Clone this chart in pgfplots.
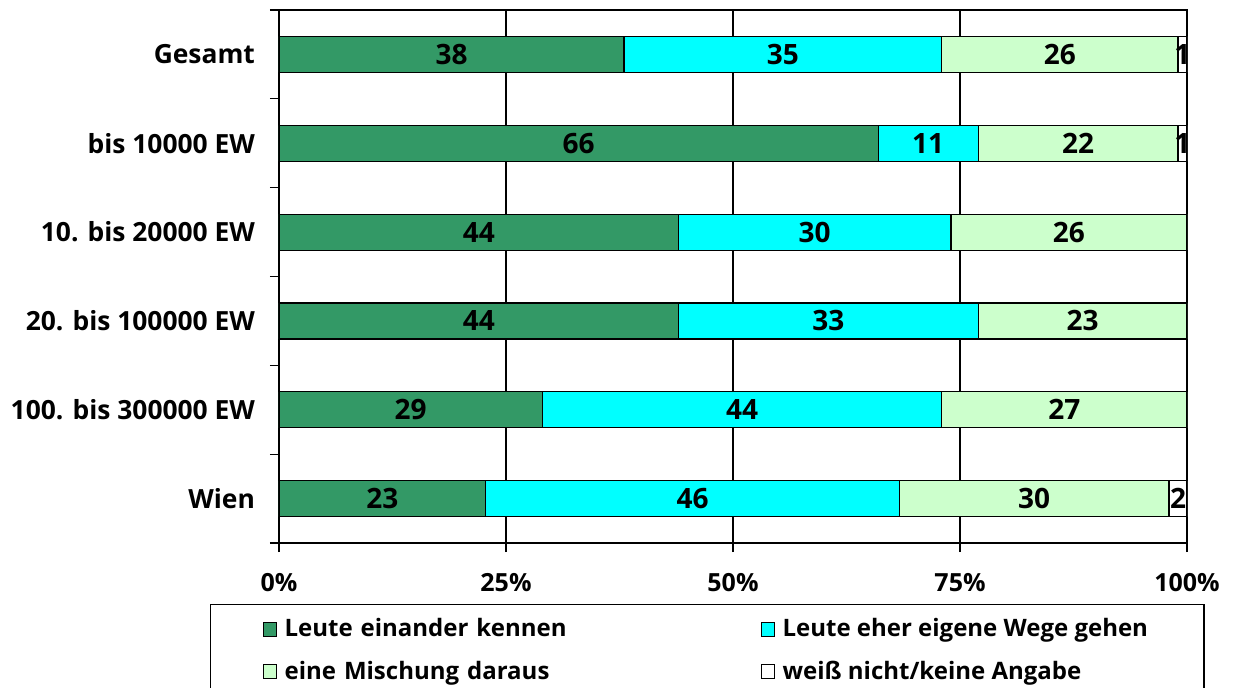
\documentclass[border=0pt]{standalone}
\usepackage{fontspec}
\setmainfont{Open Sans}
\usepackage{pgfplots}
\usepackage{pgfplotstable}
\pgfplotsset{compat=1.18}
\definecolor{dg}{RGB}{51,153,102}
\definecolor{cy}{RGB}{0,255,255}
\definecolor{lg}{RGB}{204,255,204}
\pgfplotstableread{
c v l
0 38 38
1 66 66
2 44 44
3 44 44
4 29 29
5 22.772 23
}\tA
\pgfplotstableread{
c v l
0 35 35
1 11 11
2 30 30
3 33 33
4 44 44
5 45.545 46
}\tB
\pgfplotstableread{
c v l
0 26 26
1 22 22
2 26 26
3 23 23
4 27 27
5 29.703 30
}\tC
\pgfplotstableread{
c v l
0 1 1
1 1 1
2 0 0
3 0 0
4 0 0
5 1.980 2
}\tD
\pgfplotsset{seg/.style={draw=black, line width=0.6pt,
  point meta=explicit symbolic,
  nodes near coords={\ifnum\pgfplotspointmeta>0 \pgfplotspointmeta\fi},
  every node near coord/.style={anchor=center, font=\fontsize{14}{16}\selectfont\bfseries, black}}}
\begin{document}
\begin{tikzpicture}
\useasboundingbox (0,0) rectangle (618pt,-343.5pt);
\begin{axis}[
  at={(139.5pt,-271.5pt)}, anchor=south west,
  width=454pt, height=266.5pt, scale only axis,
  xbar stacked, bar width=18pt,
  xmin=0, xmax=100, ymin=-0.5, ymax=5.5, y dir=reverse,
  axis line style={black, line width=0.8pt},
  xtick={0,25,50,75,100},
  xticklabels={0\%,25\%,50\%,75\%,100\%},
  xtick pos=bottom, ytick pos=left,
  tick align=outside, major tick length=4.5pt,
  tick style={black, line width=0.6pt},
  ytick={-0.5,0.5,...,5.5}, yticklabels={},
  extra y ticks={0,1,2,3,4,5},
  extra y tick labels={Gesamt,bis 10000 EW,10. bis 20000 EW,20. bis 100000 EW,100. bis 300000 EW,Wien},
  extra y tick style={major tick length=0pt},
  xmajorgrids, grid style={black, line width=0.6pt},
  xticklabel style={font=\fontsize{12.5}{14}\selectfont\bfseries, yshift=-7pt},
  yticklabel style={font=\fontsize{13.2}{15}\selectfont\bfseries, xshift=-8.5pt},
  legend columns=2, legend cell align=left,
  legend style={at={(-0.076,-0.1144)}, anchor=north west, draw=black, line width=0.6pt,
    font=\fontsize{12}{14}\selectfont\bfseries, inner xsep=26pt, inner ysep=5pt, row sep=6.5pt,
    nodes={inner xsep=2pt, align=left},
    /tikz/every odd column/.append style={column sep=2pt},
    /tikz/column 2/.style={nodes={text width=236pt}}},
  legend image code/.code={\draw[#1, draw=black, line width=0.5pt] (2pt,-3.5pt) rectangle (8.5pt,3.5pt);},
]
\addplot[seg, fill=dg] table[x=v, y=c, meta=l]{\tA};
\addlegendentry{Leute einander kennen}
\addplot[seg, fill=cy] table[x=v, y=c, meta=l]{\tB};
\addlegendentry{Leute eher eigene Wege gehen}
\addplot[seg, fill=lg] table[x=v, y=c, meta=l]{\tC};
\addlegendentry{eine Mischung daraus}
\addplot[seg, fill=white] table[x=v, y=c, meta=l]{\tD};
\addlegendentry{weiß nicht/keine Angabe}
\end{axis}
\end{tikzpicture}
\end{document}
